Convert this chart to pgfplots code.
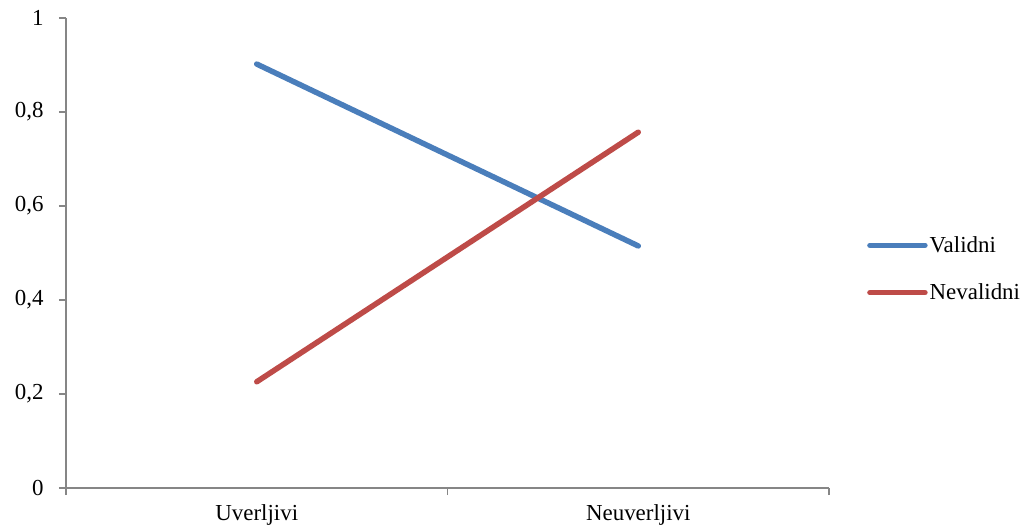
\documentclass[border=0pt]{standalone}
\usepackage{pgfplots}
\pgfplotsset{compat=1.18}
\usepackage{fontspec}
\setmainfont{Liberation Serif}
\definecolor{valblue}{HTML}{4A7EBB}
\definecolor{nevred}{HTML}{BE4B48}
\definecolor{axgray}{HTML}{868686}
\begin{document}
\begin{tikzpicture}
\begin{axis}[
  at={(0,0)}, anchor=south west,
  scale only axis,
  width=763bp, height=470bp,
  xmin=0.5, xmax=2.5, ymin=0, ymax=1,
  xtick={1,2},
  xticklabels={Uverljivi, Neuverljivi},
  minor xtick={0.5,1.5,2.5},
  ytick={0,0.2,0.4,0.6,0.8,1},
  axis x line*=bottom, axis y line*=left,
  axis line style={axgray, line width=1.2bp, -},
  tick style={axgray, line width=1.2bp},
  tick align=outside,
  major tick length=7bp, minor tick length=7bp,
  xtick style={draw=none},
  minor x tick style={draw=axgray},
  font=\fontsize{23}{27}\selectfont,
  /pgf/number format/assume math mode=true,
  /pgf/number format/use comma,
  /pgf/number format/fixed,
  yticklabel style={xshift=-12bp},
  xticklabel style={yshift=-6bp},
  legend style={draw=none, at={(1.0,0.466)}, anchor=west, xshift=38bp,
    font=\fontsize{23}{27}\selectfont, row sep=26bp, inner sep=0pt},
  legend cell align=left,
  legend image code/.code={\draw[#1, line width=5.5bp, line cap=round] (0,0) -- (55bp,0);},
]
\addplot[valblue, line width=5.5bp, line cap=round] coordinates {(1,0.902) (2,0.515)};
\addlegendentry{Validni}
\addplot[nevred, line width=5.5bp, line cap=round] coordinates {(1,0.226) (2,0.757)};
\addlegendentry{Nevalidni}
\end{axis}
\useasboundingbox (-66bp,-44bp) rectangle (968bp,488bp);
\end{tikzpicture}
\end{document}
